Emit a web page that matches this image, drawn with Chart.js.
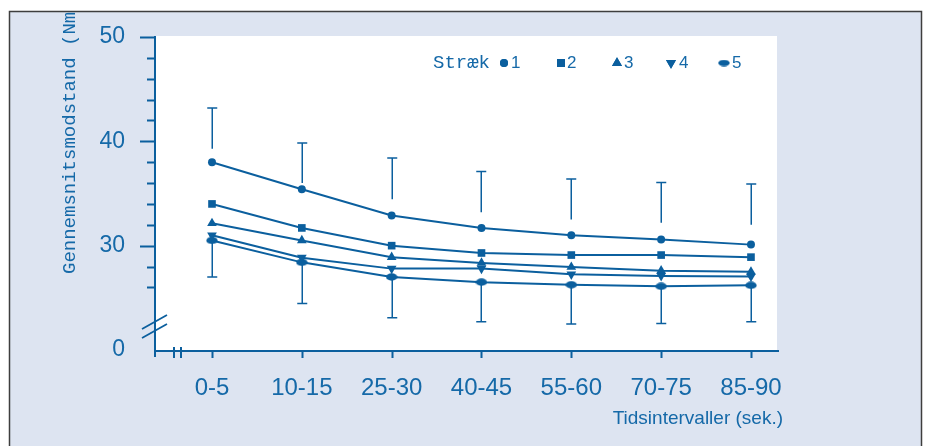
<!DOCTYPE html>
<html><head><meta charset="utf-8">
<script src="https://cdn.jsdelivr.net/npm/chart.js@4"></script>
<style>html,body{margin:0;padding:0;background:#fff}#wrap{width:925px;height:446px;position:relative}</style>
</head><body><div id="wrap"><canvas id="c"></canvas></div>
<script>
// ---- data ----
const categories = ['0-5','10-15','25-30','40-45','55-60','70-75','85-90'];
const series1 = [38.0, 35.4, 32.9, 31.7, 31.0, 30.6, 30.1];
const series2 = [34.0, 31.7, 30.0, 29.3, 29.1, 29.1, 28.9];
const series3 = [32.15, 30.5, 28.9, 28.35, 27.95, 27.6, 27.5];
const series4 = [31.0, 28.85, 27.8, 27.8, 27.25, 27.1, 27.05];
const series5 = [30.5, 28.4, 27.0, 26.5, 26.25, 26.1, 26.2];
const seriesLabels = ['1','2','3','4','5'];
const errUpFrom = [39.3, 36.0, 34.45, 33.2, 32.5, 32.2, 32.0];
const errUpTo   = [43.2, 39.85, 38.4, 37.1, 36.4, 36.05, 35.9];
const errLowTo  = [27.0, 24.45, 23.1, 22.7, 22.5, 22.55, 22.7];
const yTickValues = [20, 30, 40, 50];
const yTickLabels = ['0', '30', '40', '50'];
const yMinorTicks = [26, 28, 32, 34, 36, 38, 42, 44, 46, 48];
const legendTitle = 'Stræk';
const xTitle = 'Tidsintervaller (sek.)';
const yTitle = 'Gennemsnitsmodstand (Nm)';

// ---- styles ----
const LINE = '#0b5f9e';
const TEXT = '#1569a8';
const SANS = '"Liberation Sans", Arial, Helvetica, sans-serif';
const MONO = '"Liberation Mono", "Courier New", monospace';

function makeEllipse(w, h) {
  const c = document.createElement('canvas');
  c.width = w; c.height = h;
  const g = c.getContext('2d');
  g.fillStyle = LINE;
  g.beginPath();
  g.ellipse(w / 2, h / 2, w / 2 - 0.3, h / 2 - 0.3, 0, 0, Math.PI * 2);
  g.fill();
  return c;
}
const ellipseImg = makeEllipse(12, 8);
const ellipseLegend = makeEllipse(12, 7);

const allSeries = [series1, series2, series3, series4, series5];
const styles = [
  {pointStyle: 'circle', pointRadius: 4, rotation: 0},
  {pointStyle: 'rect', pointRadius: 5.4, rotation: 0},
  {pointStyle: 'triangle', pointRadius: 5.6, rotation: 0},
  {pointStyle: 'triangle', pointRadius: 5.6, rotation: 180},
  {pointStyle: ellipseImg, pointRadius: 6, rotation: 0}
];

const datasets = allSeries.map((s, k) => ({
  label: seriesLabels[k],
  data: s.map((v, i) => ({x: i, y: v})),
  borderColor: LINE,
  backgroundColor: LINE,
  borderWidth: 2,
  pointBorderWidth: 0,
  pointBackgroundColor: LINE,
  pointStyle: styles[k].pointStyle,
  pointRadius: styles[k].pointRadius,
  pointRotation: styles[k].rotation,
  tension: 0,
  fill: false,
  clip: false
}));

const decor = {
  id: 'decor',
  beforeDraw(chart) {
    const ctx = chart.ctx;
    const {left, right, top, bottom} = chart.chartArea;
    ctx.save();
    ctx.fillStyle = '#ffffff';
    ctx.fillRect(0, 0, chart.width, chart.height);
    ctx.fillStyle = '#dde4f1';
    ctx.fillRect(9, 11, 913, 440);
    ctx.strokeStyle = '#3e3e3e';
    ctx.lineWidth = 1.5;
    ctx.strokeRect(9.5, 11.5, 912, 460);
    ctx.fillStyle = '#ffffff';
    ctx.fillRect(left, top - 1, 777 - left, bottom - top + 1);
    ctx.restore();
  },
  beforeDatasetsDraw(chart) {
    const ctx = chart.ctx;
    const xs = chart.scales.x, ys = chart.scales.y;
    ctx.save();
    ctx.strokeStyle = LINE;
    ctx.lineWidth = 1.5;
    categories.forEach((c, i) => {
      const x = Math.round(xs.getPixelForValue(i)) + 0.25;
      const y1 = ys.getPixelForValue(errUpFrom[i]);
      const y2 = ys.getPixelForValue(errUpTo[i]);
      const y3 = ys.getPixelForValue(series5[i]);
      const y4 = ys.getPixelForValue(errLowTo[i]);
      ctx.beginPath();
      ctx.moveTo(x, y1); ctx.lineTo(x, y2);
      ctx.moveTo(x - 5, y2); ctx.lineTo(x + 5, y2);
      ctx.moveTo(x, y3); ctx.lineTo(x, y4);
      ctx.moveTo(x - 5, y4); ctx.lineTo(x + 5, y4);
      ctx.stroke();
    });
    ctx.restore();
  },
  afterDraw(chart) {
    const ctx = chart.ctx;
    const xs = chart.scales.x, ys = chart.scales.y;
    const {left, right, top, bottom} = chart.chartArea;
    ctx.save();
    ctx.strokeStyle = LINE;
    ctx.lineWidth = 2;
    // axes
    ctx.beginPath();
    ctx.moveTo(left, ys.getPixelForValue(50) - 1); ctx.lineTo(left, bottom + 7);
    ctx.moveTo(left - 1, bottom + 1); ctx.lineTo(right, bottom + 1);
    ctx.stroke();
    // y ticks
    ctx.beginPath();
    [30, 40, 50].forEach(v => {
      const y = Math.round(ys.getPixelForValue(v)) + 0.5;
      ctx.moveTo(left - 15, y); ctx.lineTo(left, y);
    });
    yMinorTicks.forEach(v => {
      const y = Math.round(ys.getPixelForValue(v)) + 0.5;
      ctx.moveTo(left - 8, y); ctx.lineTo(left, y);
    });
    ctx.stroke();
    // x ticks
    ctx.beginPath();
    categories.forEach((c, i) => {
      const x = Math.round(xs.getPixelForValue(i)) + 0.5;
      ctx.moveTo(x, bottom + 1); ctx.lineTo(x, bottom + 8);
    });
    ctx.stroke();
    // y break
    ctx.lineWidth = 1.8;
    ctx.beginPath();
    ctx.moveTo(left - 13, bottom - 21); ctx.lineTo(left + 12, bottom - 35);
    ctx.moveTo(left - 13, bottom - 12); ctx.lineTo(left + 12, bottom - 26);
    ctx.stroke();
    // x break
    ctx.lineWidth = 2;
    ctx.beginPath();
    ctx.moveTo(left + 19, bottom - 3); ctx.lineTo(left + 19, bottom + 8);
    ctx.moveTo(left + 26, bottom - 3); ctx.lineTo(left + 26, bottom + 8);
    ctx.stroke();

    // x title
    ctx.fillStyle = TEXT;
    ctx.font = '19px ' + SANS;
    ctx.textAlign = 'right';
    ctx.textBaseline = 'alphabetic';
    ctx.fillText(xTitle, 783, 424);

    // y title (clipped by frame)
    ctx.save();
    ctx.beginPath();
    ctx.rect(10, 12.5, 911, 440);
    ctx.clip();
    ctx.translate(75, 274);
    ctx.rotate(-Math.PI / 2);
    ctx.font = '19px ' + MONO;
    ctx.textAlign = 'left';
    ctx.fillText(yTitle, 0, 0);
    ctx.restore();

    // legend
    ctx.fillStyle = TEXT;
    ctx.font = '19px ' + MONO;
    ctx.textAlign = 'left';
    ctx.fillText(legendTitle, 433, 68);
    const lx = [504, 561, 617, 671, 724];
    const tx = [511, 567, 624, 679, 732];
    ctx.font = '17px ' + SANS;
    for (let k = 0; k < 5; k++) {
      ctx.fillStyle = LINE;
      if (k === 4) {
        ctx.drawImage(ellipseLegend, lx[k] - 6, 63 - 3.5);
      } else {
        const r = [4, 5.6, 5.8, 5.8][k];
        Chart.helpers.drawPoint(ctx, {pointStyle: styles[k].pointStyle, radius: r, rotation: styles[k].rotation, borderWidth: 0}, lx[k], 63);
        ctx.fill();
      }
      ctx.fillStyle = TEXT;
      ctx.fillText(seriesLabels[k], tx[k], 68);
    }
    ctx.restore();
  }
};

function noPad(s) { s.paddingTop = 0; s.paddingBottom = 0; s.paddingLeft = 0; s.paddingRight = 0; }

new Chart(document.getElementById('c'), {
  type: 'line',
  data: {datasets},
  plugins: [decor],
  options: {
    responsive: true,
    maintainAspectRatio: false,
    animation: false,
    events: [],
    layout: {padding: {left: 0, top: 37, right: 146, bottom: 0}},
    plugins: {legend: {display: false}, tooltip: {enabled: false}},
    scales: {
      x: {
        type: 'linear', min: -0.6345, max: 6.312,
        afterBuildTicks: s => { s.ticks = categories.map((c, i) => ({value: i})); },
        afterFit: s => { s.height = 96; noPad(s); },
        ticks: {
          callback: v => categories[v],
          color: TEXT, font: {family: SANS, size: 24}, padding: 24,
          maxRotation: 0, autoSkip: false
        },
        grid: {display: false, drawTicks: false},
        border: {display: false}
      },
      y: {
        min: 20, max: 50,
        afterBuildTicks: s => { s.ticks = yTickValues.map(v => ({value: v})); },
        afterFit: s => { s.width = 155; noPad(s); },
        ticks: {
          callback: v => yTickLabels[yTickValues.indexOf(v)],
          color: TEXT, font: {family: SANS, size: 23}, padding: 30
        },
        grid: {display: false, drawTicks: false},
        border: {display: false}
      }
    }
  }
});
</script>
</body></html>
